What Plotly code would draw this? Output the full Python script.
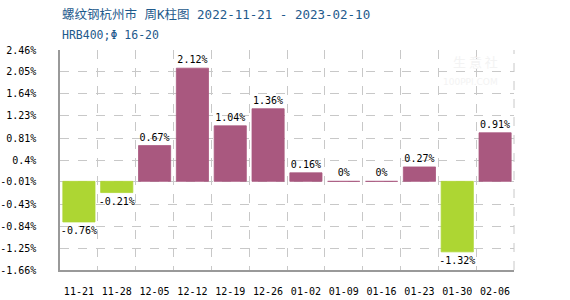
import plotly.graph_objects as go

categories = ["11-21", "11-28", "12-05", "12-12", "12-19", "12-26",
              "01-02", "01-09", "01-16", "01-23", "01-30", "02-06"]
values = [-0.76, -0.21, 0.67, 2.12, 1.04, 1.36, 0.16, 0.0, 0.0, 0.27, -1.32, 0.91]
y_ticks = [2.46, 2.05, 1.64, 1.23, 0.81, 0.4, -0.01, -0.43, -0.84, -1.25, -1.66]
title_text = "螺纹钢杭州市 周K柱图 2022-11-21 - 2023-02-10"
subtitle_text = "HRB400;Φ 16-20"

POS = "#A9587F"
NEG = "#ADD633"
colors = [NEG if v < 0 else POS for v in values]
labels = [("%g" % v) + "%" for v in values]

mono = "DejaVu Sans Mono, Liberation Mono, Noto Sans CJK SC, monospace"

L, R, T, B = 60, 56, 50, 30
W, H = 570, 300
pw, ph = W - L - R, H - T - B

def px2paper(x, y):
    return (x - L) / pw, 1 - (y - T) / ph

fig = go.Figure()
fig.add_trace(go.Bar(
    x=categories, y=values,
    marker=dict(color=colors, line=dict(color=colors, width=0.8)),
    text=labels, textposition="outside", constraintext="none",
    textfont=dict(family=mono, size=10, color="#000000"),
    cliponaxis=False, hoverinfo="skip",
))

ann = []
for txt, x, y, fam, size, col, anchor in [
    (title_text, 60, 14, "DejaVu Sans Mono, Noto Sans CJK SC", 12.5, "#1E5A8C", "left"),
    (subtitle_text, 60, 35, "DejaVu Sans Mono, Noto Sans CJK SC", 11.5, "#1E5A8C", "left"),
    ("生 意 社", 475, 61, "Noto Sans CJK SC", 13, "#F3F3F3", "center"),
    ("100PPI.COM", 470, 82, "DejaVu Sans", 9, "#F3F3F3", "center"),
]:
    xp, yp = px2paper(x, y)
    ann.append(dict(text=txt, x=xp, y=yp, xref="paper", yref="paper",
                    showarrow=False, xanchor=anchor, yanchor="middle",
                    font=dict(family=fam, size=size, color=col)))

fig.update_layout(
    width=W, height=H,
    margin=dict(l=L, r=R, t=T, b=B, autoexpand=False),
    paper_bgcolor="white", plot_bgcolor="white",
    showlegend=False, bargap=0.15,
    font=dict(family=mono, size=10, color="#000000"),
    annotations=ann,
)

fig.update_xaxes(
    type="category", tickson="boundaries", automargin=False,
    showgrid=True, gridcolor="#C8C8C8", griddash="dash", gridwidth=1,
    showline=True, linecolor="#999999", linewidth=1.5,
    ticks="", ticklabelstandoff=11, tickangle=0,
    tickfont=dict(family=mono, size=10, color="#000000"),
    fixedrange=True,
)
fig.update_yaxes(
    range=[y_ticks[-1], y_ticks[0]], automargin=False,
    tickvals=y_ticks, ticktext=[("%g" % t) + "%" for t in y_ticks],
    showgrid=True, gridcolor="#C8C8C8", griddash="dash", gridwidth=1,
    showline=True, linecolor="#999999", linewidth=1.5,
    zeroline=False, ticks="", ticklabelstandoff=20,
    tickfont=dict(family=mono, size=10, color="#000000"),
    fixedrange=True,
)
fig.add_shape(type="line", xref="paper", yref="paper", x0=1, x1=1, y0=0, y1=1,
              line=dict(color="#C8C8C8", width=1, dash="dash"))

fig.write_html("out.html")
